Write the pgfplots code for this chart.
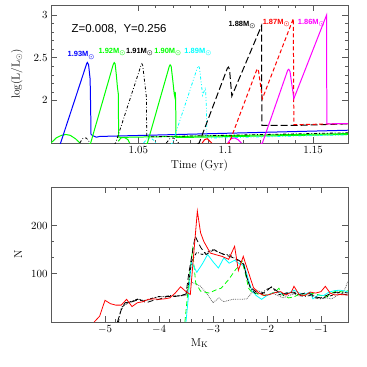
\documentclass[border=0pt]{standalone}
\usepackage{amsmath}
\usepackage{pgfplots}
\pgfplotsset{compat=1.18}
\usepackage{fontspec}
\newfontfamily\helv{Liberation Sans}
\definecolor{frame}{gray}{0.35}
\definecolor{cy}{rgb}{0,1,1}
\definecolor{mg}{rgb}{1,0,1}
\definecolor{gr}{rgb}{0,1,0}
\definecolor{rd}{rgb}{1,0,0}
\definecolor{bl}{rgb}{0,0,1}
\pgfplotsset{
  common/.style={
    scale only axis, anchor=north west,
    axis line style={frame, line width=1pt},
    every tick/.style={frame, line width=0.7pt},
    tick align=inside, xtick pos=both, ytick pos=both,
    major tick length=6bp, minor tick length=3bp,
    tick label style={font=\fontsize{11}{13}\selectfont},
    label style={font=\fontsize{11.5}{13}\selectfont},
    clip=true,
  },
}
\tikzset{ml/.style={font=\helv\bfseries\fontsize{7.5}{9}\selectfont, inner sep=0pt}}
\newcommand{\msun}{M$_{\boldsymbol{\odot}}$}
\begin{document}
\begin{tikzpicture}
\path[use as bounding box] (0,0) rectangle (367bp,-367bp);
% ---------------- top panel ----------------
\begin{axis}[common,
  at={(51bp,-5bp)}, width=297bp, height=138bp,
  xmin=1.0, xmax=1.17, ymin=1.5, ymax=3.12,
  xtick={1.05,1.1,1.15}, ytick={2,2.5,3},
  minor x tick num=4, minor y tick num=4,
  xticklabel style={/pgf/number format/.cd, fixed, precision=2},
  xlabel={Time (Gyr)}, ylabel={log(L/L$_\odot$)},
  xlabel style={at={(axis description cs:0.5,-0.167)}, anchor=center},
  ylabel style={at={(axis description cs:-0.115,0.5)}, anchor=center},
]
% small arcs near the bottom
\addplot[gr, line width=1pt] coordinates {(1.0,1.50) (1.003,1.56) (1.006,1.59) (1.0085,1.60) (1.011,1.59) (1.014,1.55) (1.0166,1.50)};
\addplot[black, line width=0.8pt, dash dot] coordinates {(1.0165,1.50) (1.018,1.55) (1.020,1.56) (1.0215,1.53) (1.022,1.50)};
\addplot[gr, line width=1pt] coordinates {(1.0385,1.52) (1.040,1.56) (1.042,1.565) (1.044,1.54) (1.045,1.50)};
\addplot[cy, line width=0.8pt, dash dot dot] coordinates {(1.053,1.50) (1.055,1.55) (1.057,1.56) (1.059,1.53) (1.060,1.50)};
\addplot[black, line width=0.8pt, dash dot] coordinates {(1.066,1.50) (1.068,1.55) (1.070,1.56) (1.072,1.53) (1.073,1.50)};
\addplot[rd, line width=1pt] coordinates {(1.0865,1.50) (1.088,1.54) (1.0895,1.55) (1.091,1.52) (1.092,1.50)};
\addplot[mg, line width=1pt] coordinates {(1.1012,1.50) (1.103,1.55) (1.105,1.56) (1.107,1.54) (1.109,1.50)};
% 1.93 blue
\addplot[bl, line width=1pt] coordinates {(1.005,1.48) (1.0055,1.5) (1.0204,2.43) (1.0208,2.445) (1.0215,2.42) (1.0224,2.25) (1.0227,1.9) (1.0229,1.60) (1.024,1.585) (1.026,1.568) (1.028,1.578) (1.03,1.578) (1.17,1.65)};
% 1.92 green
\addplot[gr, line width=1pt] coordinates {(1.0215,1.48) (1.0227,1.5) (1.0356,2.42) (1.0362,2.444) (1.0367,2.43) (1.0374,2.30) (1.0380,2.16) (1.0385,2.08) (1.0386,1.9) (1.0387,1.57) (1.040,1.566) (1.17,1.61)};
% 1.91 black dash-dot
\addplot[black, line width=0.8pt, dash dot] coordinates {(1.036,1.48) (1.037,1.5) (1.0515,2.41) (1.052,2.43) (1.0525,2.41) (1.0546,2.04) (1.0547,1.8) (1.0548,1.58) (1.056,1.572) (1.17,1.62)};
% 1.90 green
\addplot[gr, line width=1pt] coordinates {(1.054,1.48) (1.0552,1.5) (1.0677,2.40) (1.0682,2.417) (1.0688,2.40) (1.0700,2.18) (1.0705,2.08) (1.0709,2.04) (1.0711,2.10) (1.0713,2.02) (1.0714,1.9) (1.0715,1.565) (1.075,1.565) (1.17,1.60)};
% 1.89 cyan
\addplot[cy, line width=0.8pt, dash dot dot] coordinates {(1.0683,1.48) (1.0695,1.5) (1.0839,2.39) (1.0844,2.405) (1.0850,2.38) (1.0868,2.06) (1.0884,2.15) (1.0890,1.9) (1.0892,1.56) (1.095,1.56) (1.17,1.595)};
% 1.88 black long dash
\addplot[black, line width=1pt, dash pattern=on 7pt off 3pt] coordinates {(1.0835,1.48) (1.0848,1.5) (1.1010,2.38) (1.1016,2.392) (1.1022,2.36) (1.1035,2.05) (1.1205,2.877) (1.1207,1.706) (1.1396,1.706) (1.17,1.725)};
% 1.87 red dashed
\addplot[rd, line width=1pt, dash pattern=on 4pt off 2.5pt] coordinates {(1.1005,1.48) (1.102,1.5) (1.1177,2.355) (1.1182,2.372) (1.1188,2.345) (1.1210,2.02) (1.1387,2.96) (1.1390,1.715) (1.17,1.728)};
% 1.86 magenta
\addplot[mg, line width=1pt] coordinates {(1.1195,1.48) (1.121,1.5) (1.1355,2.355) (1.1361,2.366) (1.1368,2.34) (1.1390,2.02) (1.1577,3.0) (1.1579,1.725) (1.17,1.728)};
\node[anchor=west, font=\helv\fontsize{11.5}{13}\selectfont] at (axis cs:1.0098,2.838) {Z=0.008, \ Y=0.256};
\node[ml, text=bl]    at (axis cs:1.0173,2.527) {1.93\msun};
\node[ml, text=gr]    at (axis cs:1.0350,2.567) {1.92\msun};
\node[ml, text=black] at (axis cs:1.0508,2.567) {1.91\msun};
\node[ml, text=gr]    at (axis cs:1.0670,2.567) {1.90\msun};
\node[ml, text=cy]    at (axis cs:1.0842,2.567) {1.89\msun};
\node[ml, text=black] at (axis cs:1.1094,2.889) {1.88\msun};
\node[ml, text=rd]    at (axis cs:1.1290,2.909) {1.87\msun};
\node[ml, text=mg]    at (axis cs:1.1491,2.909) {1.86\msun};
\end{axis}
% ---------------- bottom panel ----------------
\begin{axis}[common,
  at={(51bp,-187bp)}, width=297bp, height=135bp,
  xmin=-6, xmax=-0.5, ymin=0, ymax=280,
  xtick={-5,-4,-3,-2,-1}, ytick={100,200},
  minor x tick num=4, minor y tick num=2,
  xlabel={M$_\mathrm{K}$}, ylabel={N},
  xlabel style={at={(axis description cs:0.5,-0.156)}, anchor=center},
  ylabel style={at={(axis description cs:-0.11,0.5)}, anchor=center},
]
% gray dotted
\addplot[gray!80!black, line width=0.8pt, densely dotted] coordinates {(-4.65,35) (-4.5,42) (-4.4,48) (-4.3,45) (-4.2,45) (-4.1,50) (-4.0,52) (-3.9,53) (-3.8,55) (-3.7,55) (-3.6,54) (-3.5,55) (-3.45,75) (-3.38,82) (-3.3,78) (-3.23,74) (-3.1,57) (-3.0,40) (-2.89,50) (-2.8,42) (-2.64,47) (-2.49,47) (-2.37,48) (-2.31,57) (-2.22,67) (-2.1,62) (-2.0,55) (-1.9,60) (-1.8,55) (-1.7,50) (-1.6,55) (-1.5,58) (-1.4,54) (-1.3,57) (-1.2,60) (-1.1,52) (-1.0,48) (-0.9,50) (-0.8,48) (-0.7,55) (-0.6,60) (-0.55,70) (-0.5,85)};
% green dashed
\addplot[gr, line width=0.8pt, dash pattern=on 5pt off 3pt] coordinates {(-3.52,0) (-3.45,80) (-3.38,150) (-3.32,81) (-3.23,64) (-3.07,60) (-2.92,68) (-2.85,70) (-2.71,88) (-2.58,109) (-2.5,118) (-2.46,126) (-2.4,100) (-2.34,70) (-2.27,60) (-2.15,58) (-2.05,55) (-1.95,58) (-1.85,62) (-1.78,70) (-1.7,55) (-1.6,50) (-1.5,52) (-1.4,58) (-1.3,55) (-1.2,60) (-1.1,58) (-1.0,55) (-0.9,52) (-0.8,60) (-0.7,65) (-0.6,62) (-0.5,65)};
% cyan
\addplot[cy, line width=0.8pt] coordinates {(-3.5,0) (-3.45,60) (-3.4,125) (-3.3,103) (-3.2,120) (-3.1,140) (-3.0,125) (-2.9,112) (-2.8,133) (-2.7,122) (-2.6,128) (-2.5,120) (-2.42,117) (-2.35,90) (-2.28,65) (-2.2,55) (-2.1,47) (-2.0,55) (-1.9,60) (-1.8,62) (-1.7,58) (-1.6,60) (-1.5,66) (-1.4,60) (-1.3,58) (-1.2,62) (-1.15,48) (-1.05,56) (-0.95,55) (-0.85,62) (-0.75,65) (-0.65,66) (-0.55,64) (-0.5,62)};
% black dash-dot
\addplot[black, line width=0.8pt, dash dot] coordinates {(-4.75,0) (-4.7,30) (-4.6,38) (-4.5,44) (-4.4,47) (-4.3,43) (-4.2,47) (-4.1,50) (-4.0,53) (-3.9,52) (-3.8,55) (-3.7,53) (-3.6,55) (-3.5,56) (-3.45,80) (-3.4,125) (-3.3,145) (-3.2,140) (-3.1,145) (-3.0,150) (-2.9,145) (-2.8,140) (-2.7,140) (-2.6,132) (-2.5,125) (-2.43,120) (-2.38,95) (-2.3,68) (-2.2,58) (-2.1,60) (-2.0,68) (-1.9,72) (-1.8,58) (-1.7,55) (-1.6,60) (-1.5,62) (-1.4,55) (-1.3,53) (-1.2,55) (-1.1,50) (-1.0,48) (-0.9,52) (-0.8,55) (-0.7,60) (-0.6,62) (-0.5,60)};
% black long dash
\addplot[black, line width=0.8pt, dash pattern=on 6pt off 3pt] coordinates {(-4.77,0) (-4.7,25) (-4.63,40) (-4.5,42) (-4.36,47) (-4.24,40) (-4.1,45) (-4.0,47) (-3.85,53) (-3.7,53) (-3.6,55) (-3.5,58) (-3.45,100) (-3.33,178) (-3.23,155) (-3.13,140) (-2.98,150) (-2.86,143) (-2.74,138) (-2.62,133) (-2.52,128) (-2.43,119) (-2.37,90) (-2.31,72) (-2.2,62) (-2.1,58) (-2.0,65) (-1.92,73) (-1.8,63) (-1.7,58) (-1.6,62) (-1.5,60) (-1.4,57) (-1.3,60) (-1.2,58) (-1.1,52) (-1.0,50) (-0.9,55) (-0.8,60) (-0.7,62) (-0.6,58) (-0.5,56)};
% red solid
\addplot[rd, line width=0.8pt] coordinates {(-5.2,0) (-5.1,12) (-5.0,45) (-4.9,38) (-4.8,35) (-4.7,35) (-4.6,47) (-4.5,32) (-4.4,40) (-4.3,42) (-4.2,47) (-4.1,48) (-4.0,47) (-3.9,48) (-3.8,50) (-3.7,60) (-3.6,73) (-3.5,63) (-3.42,57) (-3.29,230) (-3.23,185) (-3.17,167) (-3.05,143) (-2.96,140) (-2.83,136) (-2.71,130) (-2.60,157) (-2.53,107) (-2.44,136) (-2.34,102) (-2.25,71) (-2.15,60) (-2.05,55) (-1.95,57) (-1.85,61) (-1.75,63) (-1.65,56) (-1.55,62) (-1.5,74) (-1.4,56) (-1.3,55) (-1.2,62) (-1.1,60) (-1.0,63) (-0.92,74) (-0.83,60) (-0.75,56) (-0.65,57) (-0.5,56)};
\end{axis}
\end{tikzpicture}
\end{document}
